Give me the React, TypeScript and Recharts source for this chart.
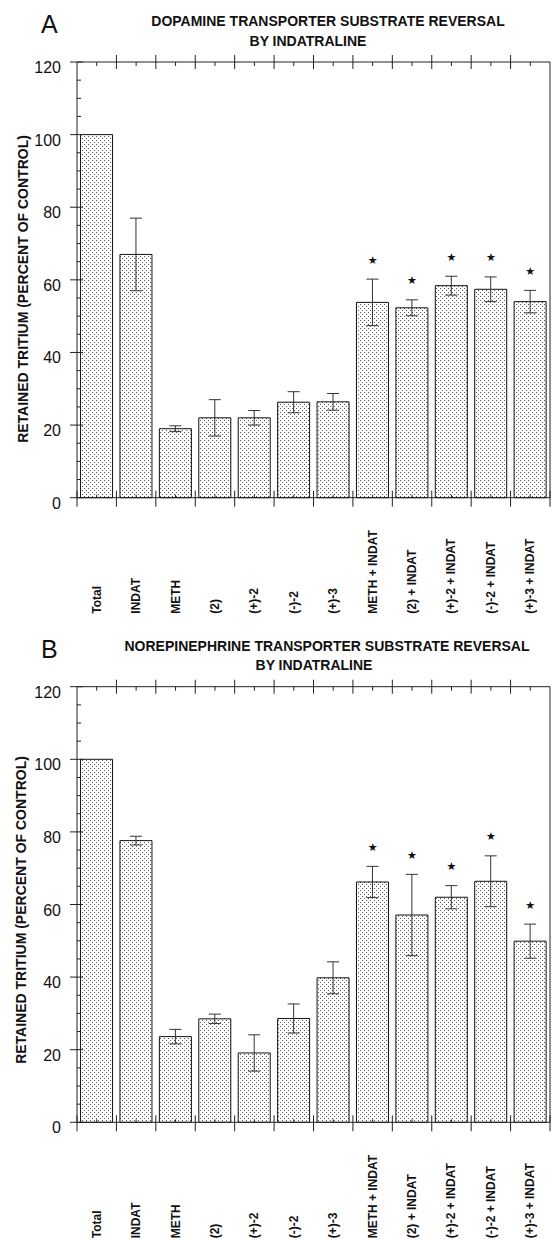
import React from 'react';
import { ComposedChart, Bar, ErrorBar, Scatter, XAxis, YAxis } from 'recharts';

// categories on the x axis (same for both panels)
const categories = [
  'Total', 'INDAT', 'METH', '(2)', '(+)-2', '(-)-2', '(+)-3',
  'METH + INDAT', '(2) + INDAT', '(+)-2 + INDAT', '(-)-2 + INDAT', '(+)-3 + INDAT',
];

// panel A - dopamine transporter
const daValues = [100, 67.0, 19.0, 22.0, 22.0, 26.3, 26.4, 53.8, 52.3, 58.4, 57.4, 54.0];
const daErrors = [null, 10.0, 0.8, 5.0, 2.0, 2.9, 2.3, 6.4, 2.2, 2.6, 3.4, 3.1];
const daSignificant = [false, false, false, false, false, false, false, true, true, true, true, true];

// panel B - norepinephrine transporter
const neValues = [100, 77.6, 23.6, 28.5, 19.1, 28.6, 39.8, 66.2, 57.1, 62.0, 66.4, 49.9];
const neErrors = [null, 1.2, 2.0, 1.3, 5.0, 4.0, 4.4, 4.3, 11.2, 3.2, 7.0, 4.7];
const neSignificant = [false, false, false, false, false, false, false, true, true, true, true, true];

const yMajorTicks = [0, 20, 40, 60, 80, 100, 120];
const yAllTicks = [0, 5, 10, 15, 20, 25, 30, 35, 40, 45, 50, 55, 60, 65, 70, 75, 80, 85, 90, 95, 100, 105, 110, 115, 120];

const FONT = '"Liberation Sans", Arial, Helvetica, sans-serif';
const INK = '#222';

type Row = { name: string; value: number; err: number | null; sig: boolean; sigTop: number | null };

const buildRows = (values: number[], errors: (number | null)[], sig: boolean[]): Row[] =>
  categories.map((name, i) => ({
    name,
    value: values[i],
    err: errors[i],
    sig: sig[i],
    sigTop: sig[i] ? values[i] + (errors[i] ?? 0) : null,
  }));

const LeftTick = (props: any) => {
  const { x, y, payload } = props;
  const v = payload.value;
  if (yMajorTicks.includes(v)) {
    return (
      <g>
        <line x1={x - 7} x2={x + 6} y1={y} y2={y} stroke={INK} />
        <text x={x - 16} y={y + 11} textAnchor="end" fontSize={16} fontFamily={FONT} fill="#111">
          {v}
        </text>
      </g>
    );
  }
  return <line x1={x} x2={x + 4} y1={y} y2={y} stroke={INK} />;
};

const RightTick = (props: any) => {
  const { x, y, payload } = props;
  if (yMajorTicks.includes(payload.value)) {
    return <line x1={x - 7} x2={x + 2} y1={y} y2={y} stroke={INK} />;
  }
  return <line x1={x - 4} x2={x} y1={y} y2={y} stroke={INK} />;
};

const BottomTick = (props: any) => {
  const { x, y, payload, index } = props;
  const half = payload.offset || 0;
  const last = index === categories.length - 1;
  return (
    <g>
      <line x1={x - half} x2={x - half} y1={y - 7} y2={y + 9} stroke={INK} />
      {last && <line x1={x + half} x2={x + half} y1={y - 7} y2={y + 9} stroke={INK} />}
      <line x1={x} x2={x} y1={y - 3} y2={y} stroke={INK} />
      <text
        x={x}
        y={y + 116}
        transform={`rotate(-90 ${x} ${y + 116})`}
        textAnchor="start"
        dominantBaseline="central"
        fontSize={12}
        fontWeight="bold"
        fontFamily={FONT}
        fill="#111"
      >
        {payload.value}
      </text>
    </g>
  );
};

const TopTick = (props: any) => {
  const { x, y, payload, index } = props;
  const half = payload.offset || 0;
  return (
    <g>
      {index > 0 && <line x1={x - half} x2={x - half} y1={y - 7} y2={y + 7} stroke={INK} />}
      <line x1={x} x2={x} y1={y} y2={y + 4} stroke={INK} />
    </g>
  );
};

const Star = (props: any) => {
  const { cx, cy, payload } = props;
  if (!payload || !payload.sig) return null;
  return (
    <text x={cx} y={cy - 19} textAnchor="middle" dominantBaseline="central" fontSize={11} fontFamily="DejaVu Sans" fill="#111">
      ★
    </text>
  );
};

type PanelProps = {
  id: string;
  rows: Row[];
  top: number;
  height: number;
  plotTop: number;
  plotBottom: number;
};

// axes get a 1px size, margins are set so the plot box lands at x 77..550
const Panel = ({ id, rows, top, height, plotTop, plotBottom }: PanelProps) => (
  <div style={{ position: 'absolute', left: 0, top, width: 554, height }}>
    <ComposedChart
      width={554}
      height={height}
      data={rows}
      margin={{ top: plotTop - 1, right: 3, bottom: height - plotBottom - 1, left: 76 }}
      barCategoryGap="9%"
    >
      <defs>
        <pattern id={id} width={4} height={4} patternUnits="userSpaceOnUse">
          <rect width={4} height={4} fill="#fff" />
          <rect x={0} y={0} width={1} height={1} fill="#555" />
          <rect x={2} y={2} width={1} height={1} fill="#555" />
        </pattern>
      </defs>
      <XAxis
        dataKey="name"
        interval={0}
        height={1}
        tickSize={0}
        tickMargin={0}
        tickLine={false}
        axisLine={{ stroke: INK }}
        tick={<BottomTick />}
      />
      <XAxis
        xAxisId="top"
        dataKey="name"
        orientation="top"
        interval={0}
        height={1}
        tickSize={0}
        tickMargin={0}
        tickLine={false}
        axisLine={{ stroke: INK }}
        tick={<TopTick />}
      />
      <YAxis
        domain={[0, 120]}
        ticks={yAllTicks}
        interval={0}
        width={1}
        tickSize={0}
        tickMargin={0}
        tickLine={false}
        axisLine={{ stroke: INK }}
        tick={<LeftTick />}
      />
      <YAxis
        yAxisId="r"
        orientation="right"
        domain={[0, 120]}
        ticks={yAllTicks}
        interval={0}
        width={1}
        tickSize={0}
        tickMargin={0}
        tickLine={false}
        axisLine={{ stroke: INK }}
        tick={<RightTick />}
      />
      <Bar dataKey="value" fill={`url(#${id})`} stroke="#111" strokeWidth={1} isAnimationActive={false}>
        <ErrorBar dataKey="err" width={6} stroke="#333" strokeWidth={1} direction="y" isAnimationActive={false} />
      </Bar>
      <Scatter dataKey="sigTop" shape={<Star />} isAnimationActive={false} />
    </ComposedChart>
  </div>
);

const rowsA = buildRows(daValues, daErrors, daSignificant);
const rowsB = buildRows(neValues, neErrors, neSignificant);

export default function App() {
  return (
    <div style={{ position: 'absolute', left: 0, top: 0, width: 554, height: 1240, background: '#fff', overflow: 'hidden' }}>
      <Panel id="dotsA" rows={rowsA} top={0} height={630} plotTop={62} plotBottom={497.7} />
      <Panel id="dotsB" rows={rowsB} top={630} height={610} plotTop={56.7} plotBottom={492.3} />
      <svg width={554} height={1240} style={{ position: 'absolute', left: 0, top: 0, pointerEvents: 'none' }}>
        <g fontFamily={FONT} fill="#111">
          <text x={41} y={33} fontSize={25}>A</text>
          <text x={328} y={26} fontSize={14} fontWeight="bold" textAnchor="middle">DOPAMINE TRANSPORTER SUBSTRATE REVERSAL</text>
          <text x={308} y={46} fontSize={14} fontWeight="bold" textAnchor="middle">BY INDATRALINE</text>
          <text x={23} y={289} transform="rotate(-90 23 289)" fontSize={14} fontWeight="bold" textAnchor="middle" dominantBaseline="central">
            RETAINED TRITIUM (PERCENT OF CONTROL)
          </text>
          <text x={41} y={658} fontSize={25}>B</text>
          <text x={327} y={651} fontSize={14} fontWeight="bold" textAnchor="middle">NOREPINEPHRINE TRANSPORTER SUBSTRATE REVERSAL</text>
          <text x={314} y={670} fontSize={14} fontWeight="bold" textAnchor="middle">BY INDATRALINE</text>
          <text x={21} y={910} transform="rotate(-90 21 910)" fontSize={14} fontWeight="bold" textAnchor="middle" dominantBaseline="central">
            RETAINED TRITIUM (PERCENT OF CONTROL)
          </text>
        </g>
      </svg>
    </div>
  );
}
